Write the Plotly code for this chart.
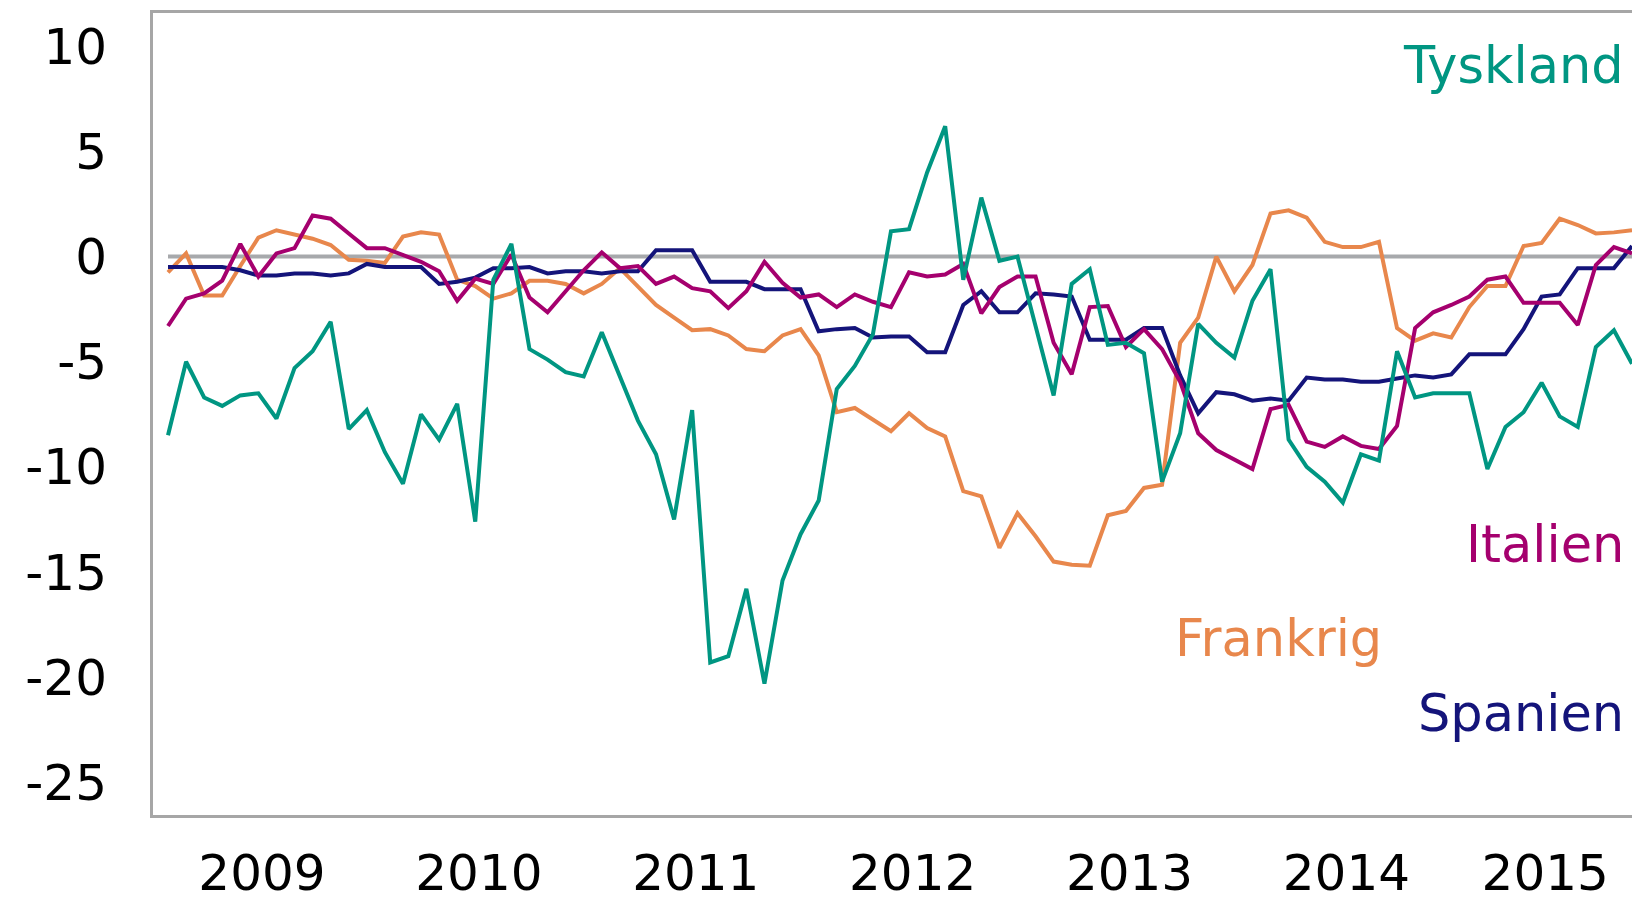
import pandas as pd
import plotly.graph_objects as go

# Monthly observations, Jan 2009 - Oct 2015
months = pd.date_range("2009-01-01", periods=82, freq="MS")
years = ["2009", "2010", "2011", "2012", "2013", "2014", "2015"]
y_ticks = [-25, -20, -15, -10, -5, 0, 5, 10]

tyskland = [
    -8.5, -5.0, -6.7, -7.1, -6.6, -6.5, -7.7, -5.3, -4.5, -3.1, -8.2, -7.3,
    -9.3, -10.8, -7.5, -8.7, -7.0, -12.6, -1.1, 0.6, -4.4, -4.9, -5.5, -5.7,
    -3.6, -5.7, -7.8, -9.4, -12.5, -7.3, -19.3, -19.0, -15.8, -20.3, -15.4, -13.2,
    -11.6, -6.3, -5.2, -3.7, 1.2, 1.3, 4.0, 6.2, -1.1, 2.8, -0.2, 0.0,
    -3.3, -6.6, -1.3, -0.6, -4.2, -4.1, -4.6, -10.7, -8.4, -3.2, -4.1, -4.8,
    -2.1, -0.6, -8.7, -10.0, -10.7, -11.7, -9.4, -9.7, -4.5, -6.7, -6.5, -6.5,
    -6.5, -10.1, -8.1, -7.4, -6.0, -7.6, -8.1, -4.3, -3.5, -5.1,
]
spanien = [
    -0.5, -0.5, -0.5, -0.5, -0.65, -0.9, -0.9, -0.8, -0.8, -0.9, -0.8, -0.35,
    -0.5, -0.5, -0.5, -1.3, -1.2, -1.0, -0.55, -0.55, -0.5, -0.8, -0.7, -0.7,
    -0.8, -0.7, -0.7, 0.3, 0.3, 0.3, -1.2, -1.2, -1.2, -1.55, -1.55, -1.55,
    -3.55, -3.45, -3.4, -3.85, -3.8, -3.8, -4.55, -4.55, -2.3, -1.65, -2.65, -2.65,
    -1.75, -1.8, -1.9, -3.95, -3.95, -3.95, -3.4, -3.4, -5.65, -7.45, -6.45, -6.55,
    -6.85, -6.75, -6.85, -5.75, -5.85, -5.85, -5.95, -5.95, -5.8, -5.65, -5.75, -5.6,
    -4.65, -4.65, -4.65, -3.45, -1.9, -1.8, -0.55, -0.55, -0.55, 0.5,
]
italien = [
    -3.3, -2.0, -1.75, -1.15, 0.6, -0.95, 0.15, 0.4, 1.95, 1.8, 1.1, 0.4,
    0.4, 0.1, -0.25, -0.7, -2.1, -1.05, -1.3, 0.1, -1.95, -2.65, -1.65, -0.65,
    0.2, -0.55, -0.45, -1.3, -0.95, -1.5, -1.65, -2.45, -1.65, -0.25, -1.25, -1.95,
    -1.8, -2.4, -1.8, -2.15, -2.4, -0.75, -0.95, -0.85, -0.35, -2.7, -1.45, -0.95,
    -0.95, -4.1, -5.6, -2.4, -2.35, -4.3, -3.45, -4.4, -5.95, -8.4, -9.2, -9.65,
    -10.1, -7.25, -7.05, -8.8, -9.05, -8.55, -9.0, -9.15, -8.05, -3.4, -2.65, -2.3,
    -1.9, -1.1, -0.95, -2.2, -2.2, -2.2, -3.25, -0.4, 0.45, 0.15,
]
frankrig = [
    -0.75, 0.15, -1.85, -1.85, -0.45, 0.9, 1.25, 1.05, 0.85, 0.55, -0.15, -0.2,
    -0.3, 0.95, 1.15, 1.05, -1.1, -1.4, -2.0, -1.75, -1.15, -1.15, -1.3, -1.75,
    -1.3, -0.55, -1.4, -2.3, -2.9, -3.5, -3.45, -3.75, -4.4, -4.5, -3.75, -3.45,
    -4.7, -7.4, -7.2, -7.75, -8.3, -7.45, -8.15, -8.55, -11.15, -11.4, -13.85, -12.2,
    -13.3, -14.5, -14.65, -14.7, -12.3, -12.1, -11.0, -10.85, -4.1, -2.9, 0.0, -1.65,
    -0.4, 2.05, 2.2, 1.85, 0.7, 0.45, 0.45, 0.7, -3.4, -4.0, -3.65, -3.85,
    -2.4, -1.4, -1.4, 0.5, 0.65, 1.8, 1.5, 1.1, 1.15, 1.25,
]
baseline = [0.0] * len(months)

series_names = ["Frankrig", "Spanien", "Italien", "Tyskland"]
series_values = [frankrig, spanien, italien, tyskland]
series_colors = ["#E8874C", "#14147A", "#A5006E", "#009682"]
# label anchor (paper coords): right edge x, vertical centre y
label_pos = {"Tyskland": (0.996, 0.934), "Italien": (0.996, 0.337),
             "Frankrig": (0.832, 0.220), "Spanien": (0.996, 0.127)}

x_idx = list(range(len(months)))
year_of = [d.year for d in months]
tick_pos = []
for y in years:
    idx = [i for i, yy in enumerate(year_of) if str(yy) == y]
    tick_pos.append((idx[0] + idx[-1]) / 2 - 0.3)

fig = go.Figure()
fig.add_trace(go.Scatter(x=x_idx, y=baseline, mode="lines",
                         line=dict(color="#A7A9AC", width=4),
                         hoverinfo="skip", showlegend=False))
for name, vals, col in zip(series_names, series_values, series_colors):
    fig.add_trace(go.Scatter(x=x_idx, y=vals, mode="lines", name=name,
                             line=dict(color=col, width=4),
                             customdata=[d.strftime("%Y-%m") for d in months],
                             hovertemplate="%{customdata}: %{y}<extra>" + name + "</extra>",
                             showlegend=False))
    lx, ly = label_pos[name]
    fig.add_annotation(text=name, xref="paper", yref="paper", x=lx, y=ly,
                       xanchor="right", yanchor="middle", showarrow=False,
                       font=dict(family="DejaVu Sans", size=51, color=col))

fig.update_layout(
    width=1632, height=901,
    margin=dict(l=153, r=0, t=13, b=86, autoexpand=False),
    paper_bgcolor="white", plot_bgcolor="white",
    font=dict(family="DejaVu Sans", size=50, color="black"),
    showlegend=False,
)
fig.update_xaxes(range=[-0.83, 81.0], tickvals=tick_pos, ticktext=years,
                 showgrid=False, zeroline=False, automargin=False,
                 showline=True, mirror=True, linecolor="#A6A6A6", linewidth=3,
                 ticks="outside", ticklen=12, tickcolor="rgba(0,0,0,0)",
                 tickfont=dict(size=50, color="black"))
fig.update_yaxes(range=[-26.55, 11.58], tickvals=y_ticks,
                 ticktext=[str(v) for v in y_ticks],
                 showgrid=False, zeroline=False, automargin=False,
                 showline=True, mirror=False, linecolor="#A6A6A6", linewidth=3,
                 ticks="outside", ticklen=33, tickcolor="rgba(0,0,0,0)",
                 tickfont=dict(size=50, color="black"))

fig.write_html("out.html", config={"displayModeBar": False},
               post_script="document.body.style.margin='0';document.body.style.overflow='hidden';")
